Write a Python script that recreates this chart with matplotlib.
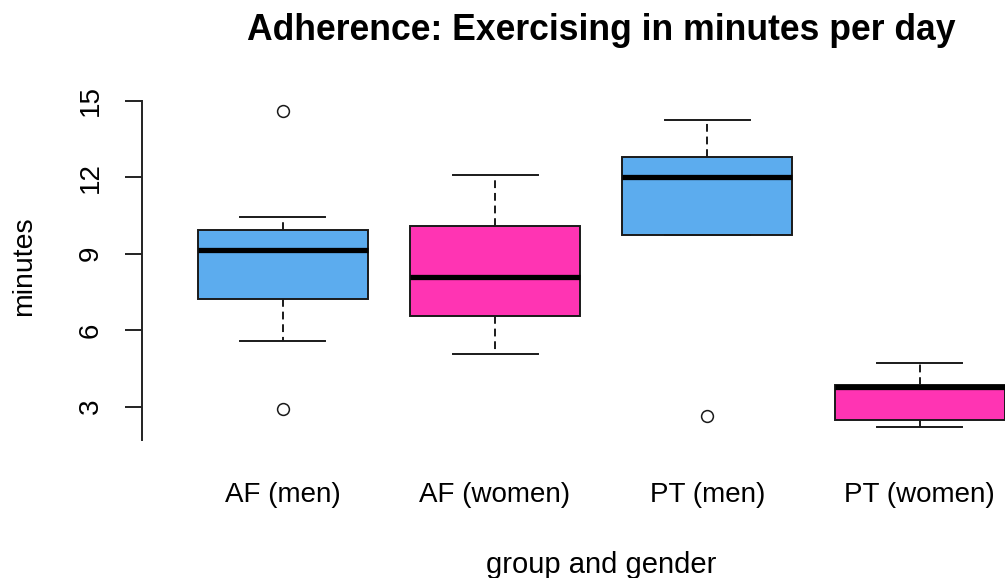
import matplotlib
matplotlib.use("Agg")
import matplotlib.pyplot as plt

categories = ["AF (men)", "AF (women)", "PT (men)", "PT (women)"]
whislo = [5.58, 5.07, 9.72, 2.22]
q1 = [7.21, 6.56, 9.72, 2.48]
med = [9.15, 8.07, 12.02, 3.78]
q3 = [9.93, 10.09, 12.80, 3.85]
whishi = [10.45, 12.09, 14.24, 4.70]
fliers = [[14.6, 2.91], [], [2.64], []]
colors = ["#5CACEE", "#FF34B3", "#5CACEE", "#FF34B3"]
yticks = [3, 6, 9, 12, 15]

plt.rcParams['font.family'] = ['Liberation Sans', 'DejaVu Sans']
W, H = 1005, 578
fig = plt.figure(figsize=(W / 100, H / 100), dpi=100)
ax = fig.add_axes([176.6 / W, 1 - 444.95 / H, 849.2 / W, (444.95 - 88) / H])

stats = [dict(label=c, whislo=a, q1=b, med=m, q3=d, whishi=e, fliers=f)
         for c, a, b, m, d, e, f in zip(categories, whislo, q1, med, q3, whishi, fliers)]
edge = '#1a1a1a'
lw = 1.4
bp = ax.bxp(stats, positions=range(1, len(categories) + 1), widths=0.8,
            patch_artist=True, showcaps=True, capwidths=0.4,
            boxprops=dict(edgecolor=edge, linewidth=lw),
            medianprops=dict(color='black', linewidth=3.8, solid_capstyle='butt'),
            whiskerprops=dict(color=edge, linewidth=lw, linestyle=(0, (4, 2.5))),
            capprops=dict(color=edge, linewidth=lw),
            flierprops=dict(marker='o', markerfacecolor='none', markeredgecolor=edge,
                            markersize=8.5, markeredgewidth=1.1))
for patch, col in zip(bp['boxes'], colors):
    patch.set_facecolor(col)
for art in ax.get_children():
    try:
        art.set_clip_on(False)
    except Exception:
        pass

ax.set_xlim(0.5, 4.5)
ax.set_ylim(1.5, 15.5)
for s in ['top', 'right', 'bottom']:
    ax.spines[s].set_visible(False)
ax.spines['left'].set_position(('data', 0.337))
ax.spines['left'].set_bounds(1.69, 15)
ax.spines['left'].set_linewidth(lw)
ax.spines['left'].set_color('#222222')
ax.patch.set_visible(False)

ax.set_yticks(yticks)
ax.set_yticklabels([str(t) for t in yticks])
ax.tick_params(axis='y', direction='out', length=12.5, width=lw, color='#222222',
               labelsize=20, labelrotation=90, pad=15)
for lbl in ax.get_yticklabels():
    lbl.set_va('center')

ax.set_xticks(range(1, len(categories) + 1))
ax.set_xticklabels(categories)
ax.tick_params(axis='x', length=0, labelsize=20, pad=27)

fig.text(601 / W, 1 - 40 / H, 'Adherence: Exercising in minutes per day',
         ha='center', va='baseline', fontsize=25.6, fontweight='bold')
fig.text(601 / W, 1 - 573 / H, 'group and gender', ha='center', va='baseline', fontsize=21)
fig.text(24 / W, 1 - 266 / H, 'minutes', ha='center', va='center', rotation=90, fontsize=20.5)

fig.savefig('out.png', dpi=100)
